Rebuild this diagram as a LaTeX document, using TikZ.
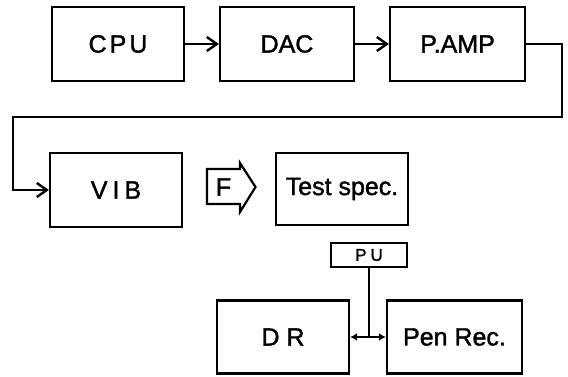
\documentclass[tikz,border=0pt]{standalone}
\usepackage{fontspec}
\setmainfont{Liberation Sans}[BoldFont={Liberation Sans},BoldFeatures={FakeBold=1.5}]
\usetikzlibrary{arrows.meta}
\tikzset{
  blk/.style={draw, line width=2.2pt, rectangle, inner sep=0pt, font=\fontsize{25}{28}\selectfont\bfseries},
  conn/.style={line width=2.2pt, -{Straight Barb[length=10pt,width=14pt,line width=2.4pt]}},
  bidir/.style={line width=2.2pt, {Latex[length=7pt,width=8pt]}-{Latex[length=7pt,width=8pt]}},
  plain/.style={line width=2.2pt}
}
\begin{document}
\begin{tikzpicture}[x=1pt,y=-1pt]
\useasboundingbox (0,0) rectangle (568,377);
\node[blk, minimum width=132pt, minimum height=74pt] (cpu) at (118,44) {C\kern3pt P\kern3pt U};
\node[blk, minimum width=134pt, minimum height=74pt] (dac) at (287,44) {DAC};
\node[blk, minimum width=135pt, minimum height=74pt] (pamp) at (457.5,44) {P.AMP};
\node[blk, minimum width=132pt, minimum height=74pt] (vib) at (116,190) {V\kern5pt I\kern5pt B};
\node[blk, minimum width=132pt, minimum height=72pt] (test) at (342,189) {Test spec.};
\node[blk, minimum width=132pt, minimum height=73pt] (dr) at (283,337) {D R};
\node[blk, minimum width=135pt, minimum height=73pt] (pen) at (454.5,337) {Pen Rec.};
\node[blk, minimum width=76pt, minimum height=24pt, font=\fontsize{17}{19}\selectfont\bfseries] (pu) at (369,255) {P\kern4pt U};

\draw[conn] (cpu.east) -- (dac.west);
\draw[conn] (dac.east) -- (pamp.west);
\coordinate (c1) at (562,117);
\coordinate (c2) at (13,117);
\draw[conn] (pamp.east) -| (c1) -- (c2) |- (vib.west);

% F arrow
\node[font=\fontsize{25}{28}\selectfont\bfseries, inner sep=0pt] (f) at (223.5,187) {F};
\draw[plain, line join=miter] (240,169) -- (207,169) -- (207,204) -- (240,204) -- (240,212) -- (255.5,187) -- (240,163) -- cycle;

% PU connection
\coordinate (j) at (pu.south |- dr.east);
\draw[plain] (pu.south) -- (j);
\draw[bidir] (dr.east) -- (pen.west);
\end{tikzpicture}
\end{document}
